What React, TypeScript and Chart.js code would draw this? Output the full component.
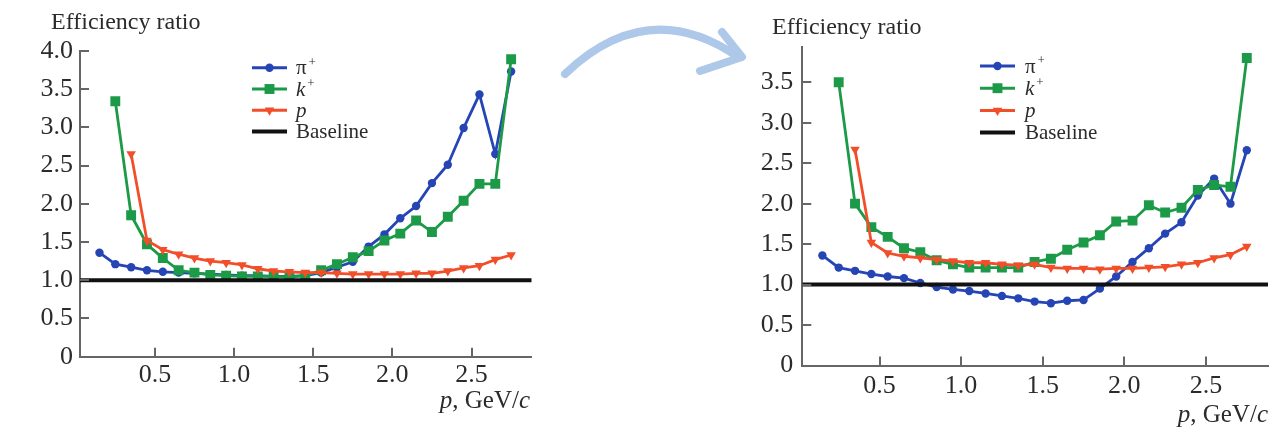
import React, { useEffect, useRef } from 'react';
import { Chart, registerables } from 'chart.js';

Chart.register(...registerables);

// ---------- data ----------
const MOMENTUM = [
  0.15, 0.25, 0.35, 0.45, 0.55, 0.65, 0.75, 0.85, 0.95, 1.05, 1.15, 1.25, 1.35, 1.45,
  1.55, 1.65, 1.75, 1.85, 1.95, 2.05, 2.15, 2.25, 2.35, 2.45, 2.55, 2.65, 2.75,
];

// left panel (before)
const PI_BEFORE = [
  1.36, 1.21, 1.17, 1.13, 1.11, 1.1, 1.09, 1.08, 1.07, 1.06, 1.06, 1.05, 1.05, 1.06,
  1.1, 1.17, 1.24, 1.44, 1.6, 1.81, 1.97, 2.27, 2.51, 2.99, 3.43, 2.65, 3.73,
];
const K_BEFORE = [
  null, 3.34, 1.85, 1.47, 1.29, 1.13, 1.1, 1.07, 1.06, 1.05, 1.05, 1.05, 1.04, 1.06,
  1.13, 1.21, 1.3, 1.38, 1.52, 1.61, 1.78, 1.63, 1.83, 2.04, 2.26, 2.26, 3.89,
];
const P_BEFORE = [
  null, null, 2.65, 1.52, 1.4, 1.34, 1.29, 1.25, 1.23, 1.2, 1.15, 1.12, 1.11, 1.1,
  1.1, 1.09, 1.08, 1.08, 1.08, 1.08, 1.09, 1.09, 1.12, 1.16, 1.19, 1.27, 1.33,
];

// right panel (after)
const PI_AFTER = [
  1.36, 1.21, 1.17, 1.13, 1.1, 1.08, 1.02, 0.97, 0.94, 0.92, 0.89, 0.86, 0.83, 0.79,
  0.77, 0.8, 0.81, 0.95, 1.1, 1.28, 1.45, 1.63, 1.77, 2.1, 2.31, 2.0, 2.66,
];
const K_AFTER = [
  null, 3.5, 2.0, 1.71, 1.59, 1.45, 1.4, 1.3, 1.25, 1.21, 1.21, 1.21, 1.21, 1.28,
  1.32, 1.43, 1.52, 1.61, 1.78, 1.79, 1.98, 1.89, 1.95, 2.17, 2.23, 2.21, 3.8,
];
const P_AFTER = [
  null, null, 2.67, 1.52, 1.39, 1.35, 1.33, 1.31, 1.29, 1.27, 1.27, 1.25, 1.24, 1.25,
  1.21, 1.2, 1.2, 1.19, 1.2, 1.2, 1.21, 1.22, 1.25, 1.27, 1.33, 1.37, 1.47,
];

const BASELINE_VALUE = 1;
const X_MIN = 0.027;
const X_MAX = 2.88;
const Y_MAX_BEFORE = 4;
const Y_MAX_AFTER = 3.94;
const TICK_STEP = 0.5;

const LEGEND_ITEMS = [
  { label: 'π+', base: 'π', sup: '+', italic: false },
  { label: 'k+', base: 'k', sup: '+', italic: true },
  { label: 'p', base: 'p', sup: '', italic: true },
  { label: 'Baseline', base: 'Baseline', sup: '', italic: false },
];

// ---------- styles ----------
const COLORS = { pi: '#2645b5', k: '#1c9a47', p: '#f24e2a', base: '#111111' };
const AXIS_COLOR = '#666666';
const TEXT_COLOR = '#2b2b2b';
const SERIF = '"Liberation Serif", "Times New Roman", serif';

const innerTicks = {
  id: 'innerTicks',
  afterDraw(chart: any) {
    const { ctx, chartArea } = chart;
    const xs = chart.scales.x;
    const ys = chart.scales.y;
    ctx.save();
    ctx.strokeStyle = AXIS_COLOR;
    ctx.lineWidth = 2;
    xs.ticks.forEach((t: any) => {
      const px = Math.round(xs.getPixelForValue(t.value));
      ctx.beginPath();
      ctx.moveTo(px, chartArea.bottom);
      ctx.lineTo(px, chartArea.bottom - 9);
      ctx.stroke();
    });
    ys.ticks.forEach((t: any) => {
      if (t.value === ys.min) return;
      const py = Math.round(ys.getPixelForValue(t.value));
      ctx.beginPath();
      ctx.moveTo(chartArea.left, py);
      ctx.lineTo(chartArea.left + 9, py);
      ctx.stroke();
    });
    ctx.restore();
  },
};

function drawMarker(ctx: CanvasRenderingContext2D, style: string, x: number, y: number, r: number) {
  ctx.beginPath();
  if (style === 'circle') {
    ctx.arc(x, y, r, 0, Math.PI * 2);
  } else if (style === 'rect') {
    const s = r * Math.SQRT1_2;
    ctx.rect(x - s, y - s, 2 * s, 2 * s);
  } else if (style === 'triangle') {
    ctx.moveTo(x, y + r);
    ctx.lineTo(x - r * Math.sin(Math.PI / 3), y - r / 2);
    ctx.lineTo(x + r * Math.sin(Math.PI / 3), y - r / 2);
    ctx.closePath();
  }
  ctx.fill();
}

const seriesLegend = {
  id: 'seriesLegend',
  afterDraw(chart: any, _args: any, opts: any) {
    const ctx: CanvasRenderingContext2D = chart.ctx;
    ctx.save();
    LEGEND_ITEMS.forEach((item, i) => {
      const ds = chart.data.datasets.find((d: any) => d.label === item.label);
      if (!ds) return;
      const y = opts.y0 + i * opts.dy;
      ctx.strokeStyle = ds.borderColor;
      ctx.lineWidth = item.label === 'Baseline' ? 4 : 3;
      ctx.beginPath();
      ctx.moveTo(opts.x1, y);
      ctx.lineTo(opts.x2, y);
      ctx.stroke();
      if (ds.pointRadius > 0) {
        ctx.fillStyle = ds.backgroundColor;
        drawMarker(ctx, ds.pointStyle, (opts.x1 + opts.x2) / 2, y, ds.pointRadius);
      }
      ctx.fillStyle = TEXT_COLOR;
      ctx.textBaseline = 'alphabetic';
      ctx.textAlign = 'left';
      ctx.font = `${item.italic ? 'italic ' : ''}${opts.fontSize}px ${SERIF}`;
      ctx.fillText(item.base, opts.tx, y + 6.5);
      if (item.sup) {
        const w = ctx.measureText(item.base).width;
        ctx.font = `${Math.round(opts.fontSize * 0.62)}px ${SERIF}`;
        ctx.fillText(item.sup, opts.tx + w + 2, y - 2);
      }
    });
    ctx.restore();
  },
};

const toPoints = (vals: (number | null)[]) => MOMENTUM.map((x, i) => ({ x, y: vals[i] }));

type Panel = {
  pi: (number | null)[];
  k: (number | null)[];
  p: (number | null)[];
  yMax: number;
  width: number;
  height: number;
  yAxisWidth: number;
  xAxisHeight: number;
  padTop: number;
  padRight: number;
  yTickPad: number;
  xTickPad: number;
  legend: any;
};

function buildConfig(panel: Panel): any {
  const tickFont = { family: SERIF, size: 26 };
  return {
    type: 'line',
    data: {
      datasets: [
        {
          label: 'Baseline',
          data: [
            { x: X_MIN, y: BASELINE_VALUE },
            { x: X_MAX, y: BASELINE_VALUE },
          ],
          borderColor: COLORS.base,
          backgroundColor: COLORS.base,
          borderWidth: 4,
          pointRadius: 0,
        },
        {
          label: 'p',
          data: toPoints(panel.p),
          borderColor: COLORS.p,
          backgroundColor: COLORS.p,
          borderWidth: 2.8,
          pointStyle: 'triangle',
          rotation: 180,
          pointRadius: 5.5,
          pointBorderWidth: 0,
        },
        {
          label: 'k+',
          data: toPoints(panel.k),
          borderColor: COLORS.k,
          backgroundColor: COLORS.k,
          borderWidth: 2.8,
          pointStyle: 'rect',
          pointRadius: 7,
          pointBorderWidth: 0,
        },
        {
          label: 'π+',
          data: toPoints(panel.pi),
          borderColor: COLORS.pi,
          backgroundColor: COLORS.pi,
          borderWidth: 2.8,
          pointStyle: 'circle',
          pointRadius: 4.2,
          pointBorderWidth: 0,
        },
      ],
    },
    options: {
      animation: false,
      responsive: false,
      devicePixelRatio: 1,
      events: [],
      layout: { padding: { top: panel.padTop, right: panel.padRight, bottom: 0, left: 0 } },
      plugins: {
        legend: { display: false },
        tooltip: { enabled: false },
        seriesLegend: panel.legend,
      },
      scales: {
        x: {
          type: 'linear',
          min: X_MIN,
          max: X_MAX,
          afterFit: (s: any) => {
            s.height = panel.xAxisHeight;
          },
          grid: { display: false, drawTicks: false },
          border: { display: true, color: AXIS_COLOR, width: 2 },
          ticks: {
            stepSize: TICK_STEP,
            includeBounds: false,
            autoSkip: false,
            maxRotation: 0,
            padding: panel.xTickPad,
            color: TEXT_COLOR,
            font: tickFont,
            callback: (v: any) => Number(v).toFixed(1),
          },
        },
        y: {
          type: 'linear',
          min: 0,
          max: panel.yMax,
          afterFit: (s: any) => {
            s.width = panel.yAxisWidth;
          },
          grid: { display: false, drawTicks: false },
          border: { display: true, color: AXIS_COLOR, width: 2 },
          ticks: {
            stepSize: TICK_STEP,
            includeBounds: false,
            autoSkip: false,
            padding: panel.yTickPad,
            color: TEXT_COLOR,
            font: tickFont,
            callback: (v: any) => (Number(v) === 0 ? '0' : Number(v).toFixed(1)),
          },
        },
      },
    },
    plugins: [innerTicks, seriesLegend],
  };
}

const LEFT_PANEL: Panel = {
  pi: PI_BEFORE,
  k: K_BEFORE,
  p: P_BEFORE,
  yMax: Y_MAX_BEFORE,
  width: 545,
  height: 390,
  yAxisWidth: 80,
  xAxisHeight: 53.3,
  padTop: 30.8,
  padRight: 13.3,
  yTickPad: 7,
  xTickPad: 3,
  legend: { x1: 252, x2: 287, tx: 296, y0: 47.7, dy: 21.3, fontSize: 21 },
};

const RIGHT_PANEL: Panel = {
  pi: PI_AFTER,
  k: K_AFTER,
  p: P_AFTER,
  yMax: Y_MAX_AFTER,
  width: 563,
  height: 390,
  yAxisWidth: 82.3,
  xAxisHeight: 44.5,
  padTop: 26.7,
  padRight: 15,
  yTickPad: 9,
  xTickPad: 5,
  legend: { x1: 260, x2: 295, tx: 305, y0: 46, dy: 22.2, fontSize: 21 },
};

const titleStyle: React.CSSProperties = {
  position: 'absolute',
  fontFamily: SERIF,
  fontSize: 24,
  lineHeight: '24px',
  color: TEXT_COLOR,
  whiteSpace: 'nowrap',
};

const axisTitleStyle: React.CSSProperties = {
  position: 'absolute',
  fontFamily: SERIF,
  fontSize: 25,
  lineHeight: '25px',
  color: TEXT_COLOR,
  whiteSpace: 'nowrap',
  width: 200,
  textAlign: 'right',
};

export default function App() {
  const leftRef = useRef<HTMLCanvasElement>(null);
  const rightRef = useRef<HTMLCanvasElement>(null);

  useEffect(() => {
    const c1 = new Chart(leftRef.current as HTMLCanvasElement, buildConfig(LEFT_PANEL));
    const c2 = new Chart(rightRef.current as HTMLCanvasElement, buildConfig(RIGHT_PANEL));
    return () => {
      c1.destroy();
      c2.destroy();
    };
  }, []);

  return (
    <div
      style={{
        position: 'absolute',
        left: 0,
        top: 0,
        width: 1283,
        height: 433,
        background: '#ffffff',
        overflow: 'hidden',
      }}
    >
      <canvas
        ref={leftRef}
        width={LEFT_PANEL.width}
        height={LEFT_PANEL.height}
        style={{ position: 'absolute', left: 0, top: 20, width: LEFT_PANEL.width, height: LEFT_PANEL.height }}
      />
      <canvas
        ref={rightRef}
        width={RIGHT_PANEL.width}
        height={RIGHT_PANEL.height}
        style={{ position: 'absolute', left: 720, top: 20, width: RIGHT_PANEL.width, height: RIGHT_PANEL.height }}
      />
      <div style={{ ...titleStyle, left: 51, top: 9 }}>Efficiency ratio</div>
      <div style={{ ...titleStyle, left: 772, top: 14 }}>Efficiency ratio</div>
      <div style={{ ...axisTitleStyle, left: 330, top: 387 }}>
        <i>p</i>, GeV/<i>c</i>
      </div>
      <div style={{ ...axisTitleStyle, left: 1068, top: 401 }}>
        <i>p</i>, GeV/<i>c</i>
      </div>
      <svg
        width={1283}
        height={433}
        style={{ position: 'absolute', left: 0, top: 0, pointerEvents: 'none' }}
      >
        <path
          d="M 565 74 Q 648 -5 738 57"
          stroke="#aec8ea"
          strokeWidth={8}
          fill="none"
          strokeLinecap="round"
        />
        <path
          d="M 722 32 L 742 57 L 700 71"
          stroke="#aec8ea"
          strokeWidth={8}
          fill="none"
          strokeLinecap="round"
          strokeLinejoin="round"
        />
      </svg>
    </div>
  );
}
